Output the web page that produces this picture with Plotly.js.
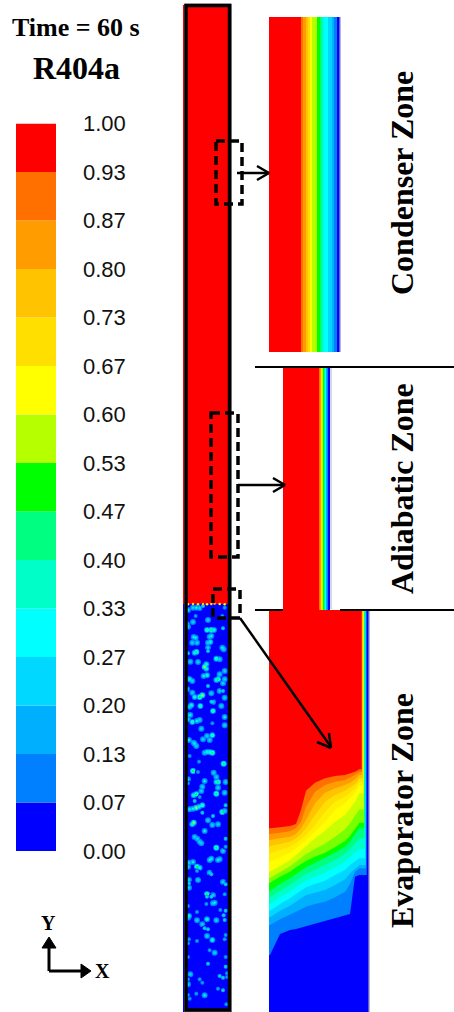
<!DOCTYPE html>
<html><head><meta charset="utf-8">
<script src="https://cdn.plot.ly/plotly-3.0.1.min.js"></script>
<style>html,body{margin:0;padding:0;background:#fff;overflow:hidden}</style>
</head><body><div id="chart" style="width:454px;height:1012px"></div>
<script>
// Legend: volume fraction bands, lowest to highest
const bandColors = ['#0000ff','#0080ff','#00b0ff','#00d8ff','#00ffff','#00ffc8','#00ff80','#00ff00','#b5ff00','#ffff00','#ffdf00','#ffc300','#ff9c00','#ff7000','#ff0000'];
const tickLabels = ['0.00','0.07','0.13','0.20','0.27','0.33','0.40','0.47','0.53','0.60','0.67','0.73','0.80','0.87','0.93','1.00'];
const bandIndex = [0,1,2,3,4,5,6,7,8,9,10,11,12,13,14];

// Condenser and adiabatic close-ups: band edges across the tube wall
const condenserEdges = [0,32,34,36.5,38.5,40.5,43,48,51,53,55,59,63,65,68,71];
const adiabaticEdges = [0,36,37,37.6,38.2,38.8,39.4,40,41,41.5,42,42.5,43,44,45,47];
const closeupBands = [14,13,12,11,10,9,8,7,6,5,4,3,2,1,0];

// Evaporator close-up: contour height at each column
const evapX = [0,30,60,78,93,108,135,165,195,225,240,255,268];
const evapColors = ['#ff7000','#ff9c00','#ffc300','#ffdf00','#ffef00','#ffff00','#c8ff00','#78ff00','#00ff00','#00ff80','#00ffc8','#00ffff','#00d8ff','#00b0ff','#0080ff','#0000ff'];
const evapWallX = [275,276,277,278,279,280,281,281.5,282,283,284,285,286,287,288,290];
const evapL1 = [551,554,558,564,606,664,688,701,708,711,716,721,728];
const evapL2 = [534,538,542,551,571,616,661,681,691,696,704,711,721];
const evapL3 = [516,521,526,534,551,576,626,658,671,681,688,698,711];
const evapL4 = [498,504,511,521,534,551,591,631,651,664,674,684,701];
const evapL5 = [476,486,496,506,518,531,561,601,631,646,658,671,691];
const evapL6 = [451,464,478,491,503,516,541,571,606,626,641,656,678];
const evapL7 = [421,438,456,471,484,496,521,544,571,591,611,631,656];
const evapL7b = [402,420,437,451,462,473,490,505,526,548,566,588,608];
const evapL8 = [388,406,421,434,444,453,466,478,494,513,528,551,568];
const evapL9 = [364,384,401,414,424,434,448,462,478,496,511,534,551];
const evapL10 = [344,364,381,394,404,414,426,440,456,474,488,506,521];
const evapL11 = [324,344,361,374,384,394,406,418,434,451,464,476,488];
const evapL12 = [304,324,341,354,364,374,384,394,411,426,441,451,461];
const evapL13 = [284,304,319,331,341,351,358,366,381,398,416,431,441];
const evapL14 = [261,278,291,301,308,316,324,331,344,361,384,421,431];
const evapL15 = [171,234,246,249,253,258,264,272,281,290,294,406,411];
const evapLevels = [evapL1,evapL2,evapL3,evapL4,evapL5,evapL6,evapL7,evapL7b,evapL8,evapL9,evapL10,evapL11,evapL12,evapL13,evapL14,evapL15];
const evapHeight = 1206, evapWidth = 300;

// Whole tube: vapour bubbles by section (x across, y down, fraction)
const sectionOffset = [0,300,600,900];
const specA = [[40,35,.35],[30,35,.3],[50,36,.3],[15,42,.35],[60,30,.25],[38,60,.2],[30,78,.3],[12,85,.3],[15,92,.3],[75,72,.3],[118,60,.2],[125,35,.2],[72,102,.5],[85,102,.55],[93,102,.4],[120,97,.25],[38,125,.35],[32,123,.35],[42,140,.3],[28,140,.3],[85,120,.35],[80,122,.3],[82,138,.45],[75,140,.3],[75,155,.3],[118,155,.35],[122,160,.3],[40,168,.6],[35,170,.4],[15,172,.25],[75,165,.25],[100,188,.5],[110,190,.3],[22,197,.3],[45,198,.3],[70,205,.4],[65,213,.7],[70,218,.4],[72,238,.4],[62,240,.35],[125,225,.3],[110,235,.3],[20,250,.4],[15,248,.3],[28,255,.3],[75,270,.25],[105,250,.55],[100,252,.4],[125,250,.3],[120,262,.3],[12,280,.3],[28,290,.3],[58,298,.7],[85,292,.3],[110,285,.3],[120,285,.25]];
const specB = [[50,3,.6],[35,3,.4],[25,28,.4],[20,32,.3],[52,30,.5],[90,18,.3],[85,17,.25],[115,30,.3],[125,5,.3],[90,45,.5],[22,57,.35],[15,58,.3],[125,63,.35],[28,78,.5],[15,70,.3],[42,75,.35],[50,72,.3],[125,88,.3],[55,98,.3],[88,82,.2],[18,132,.35],[35,143,.35],[32,140,.3],[40,150,.3],[60,130,.3],[72,120,.3],[88,118,.5],[80,132,.3],[72,168,.4],[80,168,.4],[88,170,.55],[65,170,.3],[20,180,.2],[48,197,.2],[122,203,.55],[30,225,.55],[45,228,.2],[92,230,.3],[100,243,.3],[15,250,.3],[15,262,.2],[65,255,.35],[105,258,.6],[100,258,.4],[128,258,.3],[58,272,.3],[105,275,.3],[40,295,.55],[32,298,.4],[100,293,.55],[125,290,.3],[55,285,.3]];
const specC = [[35,15,.25],[50,3,.2],[20,40,.35],[30,38,.35],[40,35,.65],[48,32,.4],[58,28,.5],[58,50,.25],[118,48,.55],[125,45,.3],[128,28,.25],[90,60,.25],[75,73,.3],[32,80,.7],[28,85,.4],[88,87,.3],[105,85,.3],[65,105,.35],[128,128,.25],[35,123,.3],[43,128,.3],[50,137,.3],[55,142,.3],[100,155,.55],[120,165,.3],[128,152,.2],[85,188,.35],[80,192,.35],[105,192,.35],[110,190,.3],[30,198,.35],[18,200,.3],[42,212,.6],[50,215,.4],[15,212,.3],[80,230,.3],[85,235,.25],[45,252,.3],[18,252,.3],[18,262,.25],[120,258,.3],[128,265,.25],[18,275,.3],[72,295,.6],[90,298,.3],[125,295,.2],[42,225,.2]];
const specD = [[72,2,.25],[85,2,.25],[95,20,.35],[90,22,.3],[70,24,.2],[15,30,.2],[42,48,.2],[112,42,.2],[128,44,.25],[122,58,.25],[18,60,.4],[15,65,.3],[42,73,.3],[72,70,.4],[100,73,.3],[125,72,.25],[58,85,.3],[65,97,.25],[75,100,.25],[72,120,.3],[88,132,.4],[128,117,.2],[125,130,.2],[18,130,.2],[15,142,.2],[42,135,.2],[80,163,.2],[95,170,.3],[15,183,.2],[128,183,.2],[75,203,.25],[128,212,.25],[22,235,.3],[132,232,.2],[110,240,.25],[120,245,.25],[132,243,.2],[15,250,.2],[50,250,.2],[58,260,.2],[15,265,.3],[105,278,.2],[120,283,.25],[40,293,.2],[65,298,.35],[20,308,.2],[130,325,.2],[15,297,.2]];
const interfaceX = [15,30,45,60,72,85,95,110,125];
const interfaceY = [25,24,25,24,25,24,23,24,25];
const interfaceV = [.6,.7,.55,.75,.6,.7,.85,.6,.65];

// Colours shared by every panel
const W = 454, H = 1012;
const discrete = [];
bandColors.forEach((c,i)=>{discrete.push([i/15,c]);discrete.push([(i+1)/15,c]);});

const sections = [specA,specB,specC,specD];
const sx=[],sy=[],sv=[];
sections.forEach((s,k)=>s.forEach(p=>{sx.push(p[0]);sy.push(p[1]+sectionOffset[k]);sv.push(p[2]);}));

const traces = [];
// Legend bar
traces.push({type:'bar',x:bandIndex.map(()=>0),y:bandIndex.map(()=>1),base:bandIndex,width:1,
  marker:{color:bandColors,line:{width:0}},xaxis:'x',yaxis:'y'});
// Tube
traces.push({type:'heatmap',x:[0,147],y:[-1773,24,1248],z:[[14],[0]],zmin:-0.5,zmax:14.5,colorscale:discrete,showscale:false,xaxis:'x2',yaxis:'y2'});
[[6,.25],[4,.55],[2,.85]].forEach(([size,k])=>{
  traces.push({type:'scatter',mode:'markers',x:sx,y:sy,
    marker:{size:size,color:sv.map(v=>v*k),cmin:0,cmax:1,colorscale:discrete,line:{width:0}},xaxis:'x2',yaxis:'y2'});
});
traces.push({type:'scatter',mode:'markers',x:interfaceX,y:interfaceY,
  marker:{size:2.5,color:interfaceV,cmin:0,cmax:1,colorscale:discrete,line:{width:0}},xaxis:'x2',yaxis:'y2'});
// Condenser close-up
traces.push({type:'heatmap',x:condenserEdges,y:[0,1],z:[closeupBands],zmin:-0.5,zmax:14.5,colorscale:discrete,showscale:false,xaxis:'x3',yaxis:'y3'});
// Adiabatic close-up
traces.push({type:'heatmap',x:adiabaticEdges,y:[0,1],z:[closeupBands],zmin:-0.5,zmax:14.5,colorscale:discrete,showscale:false,xaxis:'x4',yaxis:'y4'});
// Evaporator close-up: painted from red down to blue
traces.push({type:'scatter',mode:'lines',x:[-3,evapWidth],y:[evapHeight,evapHeight],line:{width:0},fill:'tozeroy',fillcolor:'#ff0000',xaxis:'x5',yaxis:'y5'});
evapLevels.forEach((L,k)=>{
  const last = L[L.length-1];
  traces.push({type:'scatter',mode:'lines',
    x:[-3].concat(evapX,[evapWallX[k],evapWallX[k],evapWidth]),
    y:[L[0]].concat(L,[last,evapHeight,evapHeight]),
    line:{width:0},fill:'tozeroy',fillcolor:evapColors[k],xaxis:'x5',yaxis:'y5'});
});

const hidden = {visible:false,fixedrange:true};
const dx=(a,b)=>[a/W,b/W], dy=(top,bot)=>[1-bot/H,1-top/H];
const black = {color:'#000',width:2.5};
function seg(x0,y0,x1,y1,line){return {type:'line',xref:'x6',yref:'y6',x0,y0,x1,y1,line:line||black};}
function box(x0,y0,x1,y1){return {type:'rect',xref:'x6',yref:'y6',x0,y0,x1,y1,line:{color:'#000',width:3.5,dash:'9px,5px'},fillcolor:'rgba(0,0,0,0)'};}
function tri(path){return {type:'path',xref:'x6',yref:'y6',path,fillcolor:'#000',line:{color:'#000',width:1}};}
const rule = {color:'#000',width:2};
const shapes = [
  // tube outline
  {type:'rect',xref:'x6',yref:'y6',x0:184.5,y0:4,x1:231.5,y1:1011.5,line:{color:'#999',width:1},fillcolor:'rgba(0,0,0,0)'},
  {type:'rect',xref:'x6',yref:'y6',x0:186,y0:5.5,x1:229.5,y1:1010,line:{color:'#000',width:3.5},fillcolor:'rgba(0,0,0,0)'},
  // wall edges of the close-ups
  {type:'rect',xref:'x6',yref:'y6',x0:339.5,y0:17,x1:341,y1:352,line:{width:0},fillcolor:'#b8b8c8'},
  {type:'rect',xref:'x6',yref:'y6',x0:330,y0:368,x1:332,y1:609,line:{width:0},fillcolor:'#d8d8ec'},
  {type:'rect',xref:'x6',yref:'y6',x0:368.5,y0:611,x1:370,y1:1012,line:{width:0},fillcolor:'#b8b8c8'},
  // zone dividers
  seg(255,367,454,367,rule),
  seg(255,610,283,610,rule),
  seg(340,610,454,610,rule),
  // dashed windows
  box(216,141,242,204), box(211,413,238,557), box(213,589,240,618),
  // leader arrows
  seg(237,173,269,173), seg(257,166,269,173), seg(257,180,269,173),
  seg(238,485,285,485), seg(273,478,285,485), seg(273,492,285,485),
  seg(240,618,331,747), seg(317,742,331,748), seg(329,733,331,748),
  // axis triad
  seg(49,971,49,945,{color:'#000',width:3}), seg(49,971,84,971,{color:'#000',width:3}),
  tri('M49,937 L42,948 L56,948 Z'), tri('M91,971 L81,964 L81,978 Z')
];
function label(text,x,y,size,rot){return {xref:'x6',yref:'y6',x,y,text,showarrow:false,textangle:rot||0,xanchor:'center',yanchor:'middle',
  font:{family:'"Liberation Serif",serif',size,color:'#000'}};}
const annotations = [
  label('<b>Time = 60 s</b>',76,27,26),
  label('<b>R404a</b>',76,68,32),
  label('<b>Condenser Zone</b>',402,183,32,-90),
  label('<b>Adiabatic Zone</b>',402,489,32,-90),
  label('<b>Evaporator Zone</b>',402,811,32,-90),
  label('<b>Y</b>',48,923,20),
  label('<b>X</b>',102,971,20)
];
const layout = {
  width:W,height:H,margin:{l:0,r:0,t:0,b:0},paper_bgcolor:'#fff',plot_bgcolor:'rgba(0,0,0,0)',
  showlegend:false,hovermode:false,barmode:'overlay',
  xaxis:Object.assign({domain:dx(16,56),range:[-0.5,0.5]},hidden),
  yaxis:{domain:dy(123.5,851),range:[0,15],side:'right',anchor:'x',tickvals:[0,1,2,3,4,5,6,7,8,9,10,11,12,13,14,15],ticktext:tickLabels,
    ticks:'',ticklabelstandoff:26,showgrid:false,zeroline:false,showline:false,fixedrange:true,
    tickfont:{family:'"Liberation Sans",Arial,sans-serif',size:22,color:'#111'}},
  xaxis2:Object.assign({domain:dx(183,232),range:[0,147],anchor:'y2'},hidden),
  yaxis2:Object.assign({domain:[0,1],range:[1248,-1788],anchor:'x2'},hidden),
  xaxis3:Object.assign({domain:dx(269,340),range:[0,71],anchor:'y3'},hidden),
  yaxis3:Object.assign({domain:dy(17,352),range:[0,1],anchor:'x3'},hidden),
  xaxis4:Object.assign({domain:dx(283,330),range:[0,47],anchor:'y4'},hidden),
  yaxis4:Object.assign({domain:dy(368,610),range:[0,1],anchor:'x4'},hidden),
  xaxis5:Object.assign({domain:dx(269,369),range:[-3,297],anchor:'y5'},hidden),
  yaxis5:Object.assign({domain:dy(610,1012),range:[0,1206],anchor:'x5'},hidden),
  xaxis6:Object.assign({domain:[0,1],range:[0,W],anchor:'y6'},hidden),
  yaxis6:Object.assign({domain:[0,1],range:[H,0],anchor:'x6'},hidden),
  shapes,annotations
};
Plotly.newPlot('chart',traces,layout,{staticPlot:true,displayModeBar:false});
</script></body></html>
